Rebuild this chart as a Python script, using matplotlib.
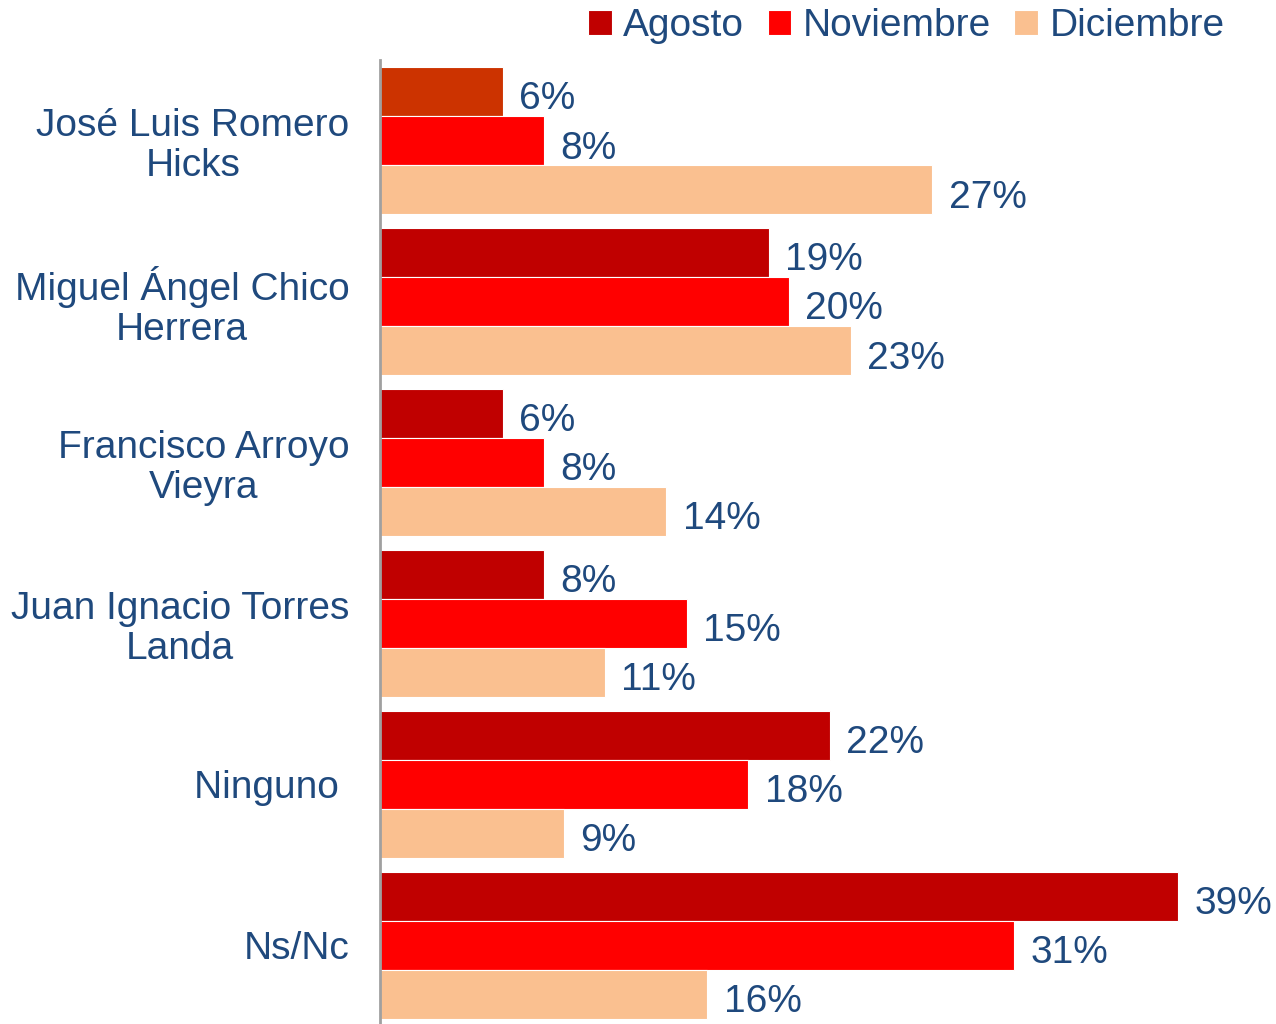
import numpy as np
import matplotlib.pyplot as plt

plt.rcParams['font.family'] = ['Liberation Sans', 'DejaVu Sans']

candidatos = ['José Luis Romero\nHicks', 'Miguel Ángel Chico\nHerrera',
              'Francisco Arroyo\nVieyra', 'Juan Ignacio Torres\nLanda',
              'Ninguno ', 'Ns/Nc']
series = ['Agosto', 'Noviembre', 'Diciembre']
agosto = [6, 19, 6, 8, 22, 39]
noviembre = [8, 20, 8, 15, 18, 31]
diciembre = [27, 23, 14, 11, 9, 16]

colores = ['#C00000', '#FF0000', '#FAC090']
txt = '#1F497D'

fig = plt.figure(figsize=(12.76, 10.24), dpi=100)
ax = fig.add_axes([380 / 1276, 0, 1 - 380 / 1276, 1 - 60 / 1024])

y = np.arange(len(candidatos))
h = 0.305
datos = [agosto, noviembre, diciembre]
for i, (vals, c, name) in enumerate(zip(datos, colores, series)):
    pos = y + (i - 1) * h
    bars = ax.barh(pos, vals, height=h, color=c, edgecolor='white',
                   linewidth=0.8, label=name)
    if i == 0:
        bars[0].set_facecolor('#CC3300')  # la primera barra va en otro tono
    for p, v in zip(pos, vals):
        ax.text(v + 0.8, p + 0.05, f'{v}%', va='center', ha='left',
                fontsize=28, color=txt)

ax.set_xlim(0, 43.8)
ax.set_ylim(5.49, -0.5)
ax.set_yticks(y)
ax.set_yticklabels(candidatos, fontsize=28, color=txt, linespacing=1.12,
                   multialignment='center')
for lab in ax.get_yticklabels():
    lab.set_y(lab.get_position()[1])
ax.tick_params(axis='y', length=0, pad=22)
ax.set_xticks([])
for s in ['top', 'right', 'bottom']:
    ax.spines[s].set_visible(False)
ax.spines['left'].set_color('#A0A0A0')
ax.spines['left'].set_linewidth(2)

handles, labels = ax.get_legend_handles_labels()
leg = fig.legend(handles, labels, loc='upper right', bbox_to_anchor=(0.987, 1.026),
                 ncol=3, frameon=False, fontsize=28, handlelength=0.6,
                 handleheight=0.6, handletextpad=0.3, columnspacing=0.6)
for t in leg.get_texts():
    t.set_color(txt)
leg.legend_handles[0].set_facecolor('#C00000')

fig.savefig('out.png', dpi=100)
